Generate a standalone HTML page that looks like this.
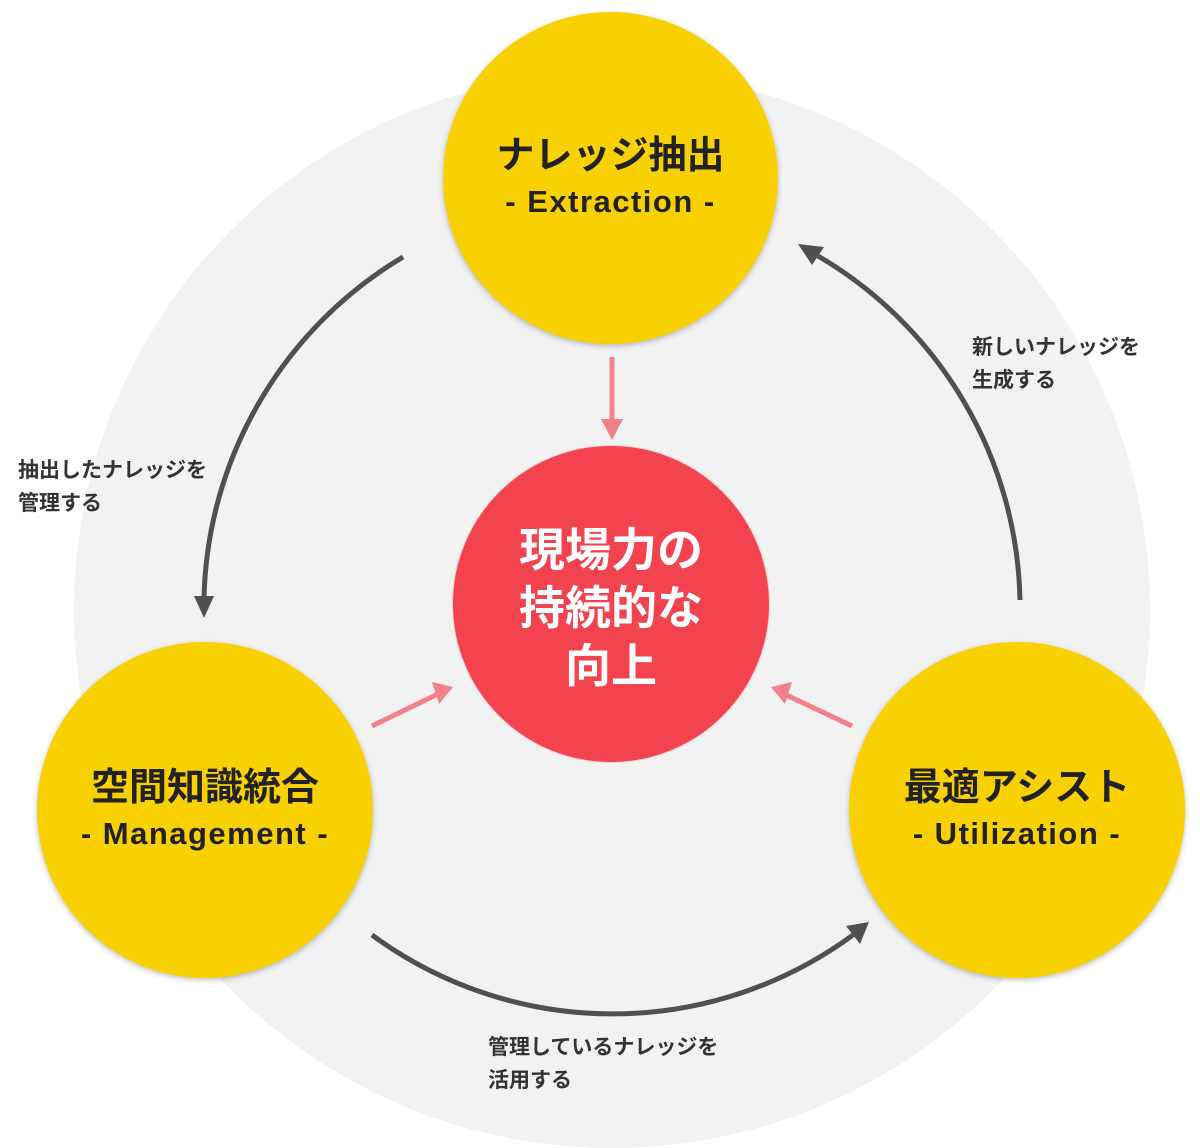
<!DOCTYPE html>
<html><head><meta charset="utf-8"><style>
html,body{margin:0;padding:0;background:#fff;}
body{width:1200px;height:1148px;position:relative;overflow:hidden;font-family:"Liberation Sans","Noto Sans CJK JP",sans-serif;}
.c{position:absolute;border-radius:50%;display:flex;flex-direction:column;align-items:center;justify-content:center;text-align:center;}
.y{background:#F9D100;box-shadow:0 2px 6px rgba(0,0,0,0.25);color:#222;}
.t1{font-size:38px;font-weight:bold;line-height:48px;}
.t2{font-size:31px;font-weight:bold;line-height:44px;letter-spacing:1.5px;}
.lab{position:absolute;font-size:21px;font-weight:bold;color:#333;line-height:33px;white-space:nowrap;}
</style></head><body>
<div class="c" style="left:74px;top:72px;width:1076px;height:1076px;background:#f2f2f2;"></div>
<svg width="1200" height="1148" style="position:absolute;left:0;top:0">
<g fill="none" stroke="#505050" stroke-width="5">
<path d="M403,257 A408,408 0 0 0 204,598"/>
<path d="M1020,600 A408,408 0 0 0 818,256"/>
<path d="M372,935 A406,406 0 0 0 853,935"/>
</g>
<g fill="#505050">
<polygon points="194,596 214,596 204,618"/>
<polygon points="824,247 812,265 798,244"/>
<polygon points="860,944 846,926 869,922"/>
</g>
<g stroke="#f4808a" stroke-width="5" fill="#f4808a">
<line x1="612" y1="357" x2="612" y2="422"/>
<line x1="372" y1="726" x2="440" y2="693"/>
<line x1="852" y1="726" x2="782" y2="693"/>
</g>
<g fill="#f4808a">
<polygon points="601,419 623,419 612,440"/>
<polygon points="432,682 453,687 439,704"/>
<polygon points="792,682 771,687 785,704"/>
</g>
</svg>
<div class="c y" style="left:443px;top:12px;width:335px;height:332px;"><div class="t1">ナレッジ抽出</div><div class="t2">- Extraction -</div></div>
<div class="c y" style="left:37px;top:642px;width:336px;height:336px;"><div class="t1">空間知識統合</div><div class="t2">- Management -</div></div>
<div class="c y" style="left:849px;top:642px;width:336px;height:336px;"><div class="t1">最適アシスト</div><div class="t2">- Utilization -</div></div>
<div class="c" style="left:452px;top:445px;width:318px;height:318px;background:#F2434F;border:1px solid #f8d0d3;color:#fff;font-size:46px;font-weight:bold;line-height:58px;padding-top:8px;box-sizing:border-box;"><div>現場力の<br>持続的な<br>向上</div></div>
<div class="lab" style="left:18px;top:454px;">抽出したナレッジを<br>管理する</div>
<div class="lab" style="left:972px;top:331px;">新しいナレッジを<br>生成する</div>
<div class="lab" style="left:488px;top:1031px;">管理しているナレッジを<br>活用する</div>
</body></html>
